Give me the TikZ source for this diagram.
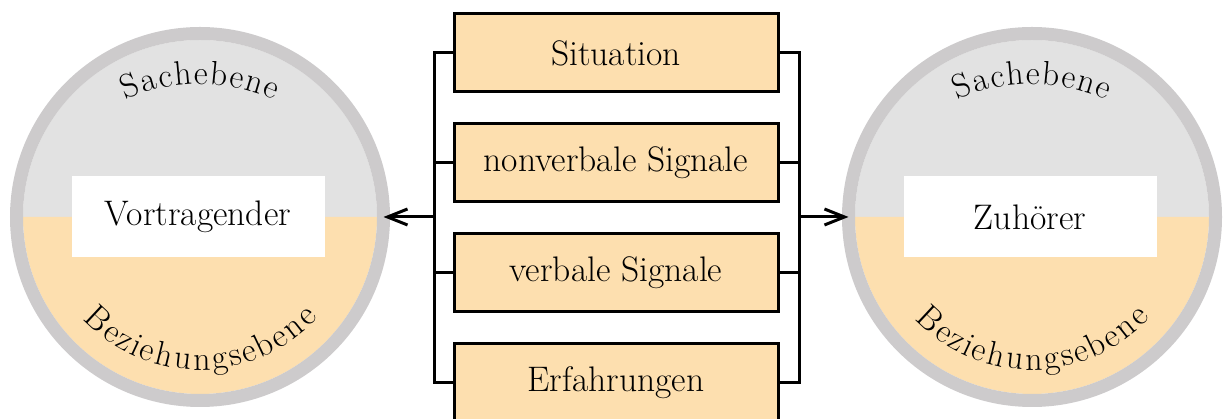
\documentclass[tikz,border=0pt]{standalone}
\usepackage{fontspec}
\newfontfamily\arcfont{Latin Modern Roman}
\usetikzlibrary{decorations.text,arrows.meta}
\definecolor{ringgray}{HTML}{CDCBCC}
\definecolor{topgray}{HTML}{E2E2E2}
\definecolor{peach}{HTML}{FDDFAF}
\begin{document}
\begin{tikzpicture}[x=1pt,y=1pt,
  box/.style={draw=black, line width=3pt, fill=peach, minimum width=324pt, minimum height=78pt, inner sep=0pt, font=\fontsize{35.5}{40}\selectfont},
  whitelabel/.style={fill=white, minimum width=253pt, minimum height=81pt, inner sep=0pt, font=\fontsize{35.5}{40}\selectfont},
  person/.style={circle, draw=ringgray, line width=13pt, minimum size=367pt, inner sep=0pt, outer sep=0pt},
  bracket/.style={line width=3pt},
  arr/.style={line width=3pt, -{Straight Barb[length=20pt,width=16pt,line width=3pt]}},
  arctext/.style={decorate, decoration={text effects along path, text={#1},
     text effects/.cd, text along path, fit text to path,
     characters={font=\arcfont\fontsize{34}{40}\selectfont, text=black}}}]
\useasboundingbox (0,0) rectangle (1223,419);

% circles
\foreach \cx/\nm/\lab in {200/L/Vortragender, 1032/R/Zuhörer}{
  \fill[topgray] (\cx-177,202) arc (180:0:177) -- cycle;
  \fill[peach] (\cx+177,202) arc (0:-180:177) -- cycle;
  \node[person] (\nm) at (\cx,202) {};
  \node[whitelabel] (\nm lab) at (\cx-2,202) {\lab};
  \path[arctext=Sachebene] (\cx-74.1,319.0) arc (114.3:65.7:180);
  \path[arctext=Beziehungsebene] (\cx-117.0,99.9) arc (223:317.5:160);
}

% boxes
\node[box] (b1) at (616,366) {Situation};
\node[box] (b2) at (616,256) {nonverbale Signale};
\node[box] (b3) at (616,146) {verbale Signale};
\node[box] (b4) at (616,36) {Erfahrungen};

\coordinate (jL) at (434,202);
\coordinate (jR) at (799,202);

\draw[bracket] (b1.west) -- (b1.west -| jL) -- (b4.west -| jL) -- (b4.west);
\draw[bracket] (b2.west) -- (b2.west -| jL);
\draw[bracket] (b3.west) -- (b3.west -| jL);
\draw[bracket] (b1.east) -- (b1.east -| jR) -- (b4.east -| jR) -- (b4.east);
\draw[bracket] (b2.east) -- (b2.east -| jR);
\draw[bracket] (b3.east) -- (b3.east -| jR);

\draw[arr] (jL) -- (L.east);
\draw[arr] (jR) -- (R.west);
\end{tikzpicture}
\end{document}
